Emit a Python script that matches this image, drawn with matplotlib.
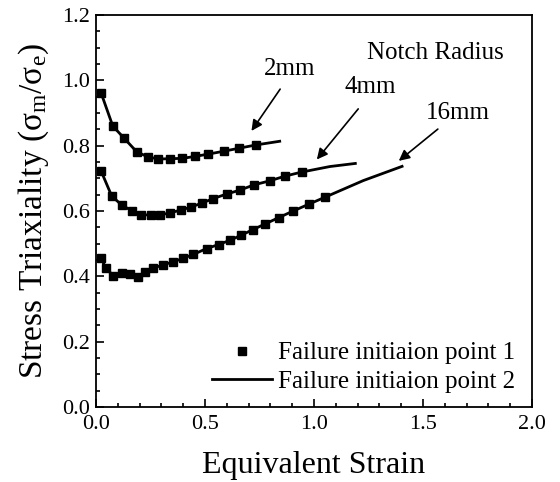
import numpy as np
import matplotlib
matplotlib.use('Agg')
import matplotlib.pyplot as plt
from matplotlib.ticker import MultipleLocator

plt.rcParams['font.family'] = ['Liberation Serif', 'DejaVu Serif']
plt.rcParams['mathtext.fontset'] = 'custom'
plt.rcParams['mathtext.rm'] = 'Liberation Serif'
plt.rcParams['mathtext.it'] = 'Liberation Serif:italic'

# 2mm notch: square markers (point 1), line continues to point 2
x_2mm = [0.023, 0.077, 0.130, 0.187, 0.237, 0.286, 0.339, 0.396, 0.454, 0.515,
         0.587, 0.656, 0.733]
y_2mm = [0.962, 0.860, 0.822, 0.781, 0.766, 0.759, 0.760, 0.761, 0.767, 0.774,
         0.783, 0.792, 0.802]
x_2mm_tail = [0.849]
y_2mm_tail = [0.814]

# 4mm notch
x_4mm = [0.023, 0.072, 0.118, 0.164, 0.205, 0.252, 0.294, 0.339, 0.390, 0.436,
         0.485, 0.538, 0.600, 0.661, 0.725, 0.796, 0.869, 0.943]
y_4mm = [0.723, 0.646, 0.618, 0.601, 0.588, 0.588, 0.588, 0.594, 0.603, 0.612,
         0.624, 0.638, 0.652, 0.664, 0.680, 0.692, 0.707, 0.719]
x_4mm_tail = [1.073, 1.196]
y_4mm_tail = [0.736, 0.746]

# 16mm notch
x_16mm = [0.022, 0.046, 0.080, 0.119, 0.156, 0.195, 0.227, 0.263, 0.307, 0.353,
          0.399, 0.447, 0.507, 0.562, 0.617, 0.667, 0.720, 0.775, 0.839, 0.905,
          0.977, 1.050]
y_16mm = [0.456, 0.425, 0.401, 0.410, 0.407, 0.399, 0.414, 0.425, 0.435, 0.444,
          0.455, 0.467, 0.485, 0.497, 0.511, 0.526, 0.543, 0.560, 0.580, 0.600,
          0.621, 0.642]
x_16mm_tail = [1.226, 1.410]
y_16mm_tail = [0.693, 0.738]

fig = plt.figure(figsize=(5.6, 4.82), dpi=100)
ax = fig.add_axes([0.1714, 0.1556, 0.7786, 0.8134])

curves = [(x_2mm, y_2mm, x_2mm_tail, y_2mm_tail),
          (x_4mm, y_4mm, x_4mm_tail, y_4mm_tail),
          (x_16mm, y_16mm, x_16mm_tail, y_16mm_tail)]
for xs, ys, xt, yt in curves:
    ax.plot(xs + xt, ys + yt, color='black', lw=2.0, solid_capstyle='butt')
    ax.plot(xs, ys, ls='none', marker='s', ms=6, color='black')

# legend handles
ax.plot([], [], ls='none', marker='s', ms=5.5, color='black',
        label='Failure initiaion point 1')
ax.plot([], [], color='black', lw=2.0, label='Failure initiaion point 2')
ax.legend(loc='lower right', frameon=False, fontsize=18, handlelength=2.4,
          handletextpad=0.25, borderaxespad=0.0, labelspacing=0.25,
          bbox_to_anchor=(0.985, 0.01))

# annotations
arrow = dict(arrowstyle='-|>', color='black', lw=1.2, mutation_scale=16)
ax.annotate('', xy=(0.706, 0.838), xytext=(0.852, 0.980), arrowprops=arrow)
ax.annotate('', xy=(1.005, 0.751), xytext=(1.211, 0.919), arrowprops=arrow)
ax.annotate('', xy=(1.379, 0.748), xytext=(1.578, 0.856), arrowprops=arrow)
ax.text(0.89, 1.035, '2mm', fontsize=18, ha='center', va='center')
ax.text(1.257, 0.980, '4mm', fontsize=18, ha='center', va='center')
ax.text(1.662, 0.901, '16mm', fontsize=18, ha='center', va='center')
ax.text(1.555, 1.083, 'Notch Radius', fontsize=18, ha='center', va='center')

ax.set_xlim(0, 2.0)
ax.set_ylim(0, 1.2)
ax.xaxis.set_major_locator(MultipleLocator(0.5))
ax.xaxis.set_minor_locator(MultipleLocator(0.1))
ax.yaxis.set_major_locator(MultipleLocator(0.2))
ax.yaxis.set_minor_locator(MultipleLocator(0.05))
ax.xaxis.set_major_formatter(plt.FormatStrFormatter('%.1f'))
ax.yaxis.set_major_formatter(plt.FormatStrFormatter('%.1f'))
ax.tick_params(which='both', direction='in', labelsize=16, width=1.2)
ax.tick_params(which='major', length=6)
ax.tick_params(which='minor', length=3)
ax.tick_params(axis='x', which='major', pad=6)
ax.tick_params(axis='y', which='major', pad=4)
for s in ax.spines.values():
    s.set_linewidth(1.3)

ax.set_xlabel('Equivalent Strain', fontsize=23, labelpad=12)
ax.set_ylabel(r'Stress Triaxiality ($\mathregular{\sigma_m/\sigma_e}$)',
              fontsize=24, labelpad=8)

fig.savefig('out.png', dpi=100)
